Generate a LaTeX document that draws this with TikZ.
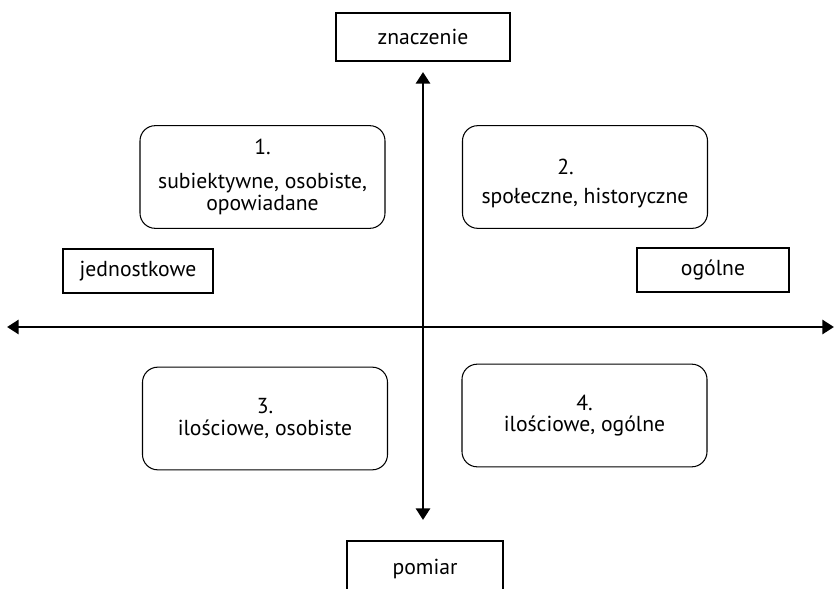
\documentclass[tikz,border=0pt]{standalone}
\usepackage{fontspec}
\setmainfont{PT Sans}
\usetikzlibrary{arrows.meta}

\begin{document}
\begin{tikzpicture}[x=0.03cm, y=-0.03cm,
    txt/.style={font=\fontsize{18.5}{18.5}\selectfont},
    axis/.style={line width=2.5pt, {Triangle[length=10pt,width=12pt]}-{Triangle[length=10pt,width=12pt]}},
    labelbox/.style={txt, draw, line width=0.9pt, inner sep=0pt},
    field/.style={txt, draw, line width=0.9pt, rounded corners=13pt, align=center,
        minimum width=7.35cm, minimum height=3.08cm, inner sep=0pt}]
    \useasboundingbox (0,0) rectangle (835,589);

    % Axis labels
    \node[labelbox, minimum width=5.22cm, minimum height=1.44cm] (znaczenie) at (423,37) {znaczenie};
    \node[labelbox, minimum width=4.68cm, minimum height=1.68cm] (pomiar) at (425,569) {pomiar};
    \node[labelbox, minimum width=4.5cm, minimum height=1.32cm] (jednostkowe) at (138,271) {jednostkowe};
    \node[labelbox, minimum width=4.56cm, minimum height=1.32cm] (ogolne) at (713,270) {ogólne};

    % Fields
    \node[field] (f1) at (262.5,177) {1.\\[11pt]subiektywne, osobiste,\\opowiadane};
    \node[field] (f2) at (585,177) {\rule{0pt}{24pt}2.\hspace*{1.8em}\\[6pt]społeczne, historyczne};
    \node[field] (f3) at (265,418.5) {3.\\ilościowe, osobiste};
    \node[field] (f4) at (584.5,415.5) {4.\\ilościowe, ogólne};

    % Axis ends
    \coordinate (top) at (423,72);
    \coordinate (bottom) at (423,520);
    \coordinate (left) at (7,327);
    \coordinate (right) at (834,327);

    % Axes
    \draw[axis] (bottom) -- (top);
    \draw[axis] (left) -- (right);
\end{tikzpicture}
\end{document}
